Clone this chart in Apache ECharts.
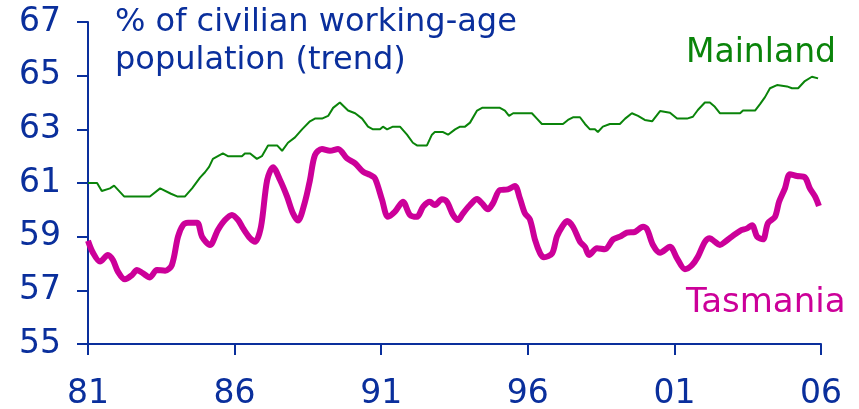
<!DOCTYPE html>
<html>
<head>
<meta charset="utf-8">
<script src="https://cdn.jsdelivr.net/npm/echarts@6/dist/echarts.min.js"></script>
<style>
  html, body { margin: 0; padding: 0; background: #fff; }
  #chart { width: 859px; height: 409px; }
</style>
</head>
<body>
<div id="chart"></div>
<script>
// participation rate, % of civilian working-age population (trend)
var yearTicks = [1981, 1986, 1991, 1996, 2001, 2006];

var mainlandYears = [1981.00, 1981.31, 1981.47, 1981.75, 1981.89, 1982.23, 1983.11, 1983.46, 1983.83, 1984.04,
  1984.31, 1984.55, 1984.82, 1984.99, 1985.13, 1985.26, 1985.43, 1985.60, 1985.77, 1986.25,
  1986.35, 1986.53, 1986.76, 1986.93, 1987.14, 1987.45, 1987.62, 1987.82, 1988.06, 1988.30,
  1988.57, 1988.74, 1988.98, 1989.19, 1989.36, 1989.59, 1989.87, 1990.11, 1990.35, 1990.55,
  1990.72, 1990.96, 1991.06, 1991.20, 1991.40, 1991.64, 1991.88, 1992.08, 1992.22, 1992.56,
  1992.73, 1992.83, 1993.11, 1993.28, 1993.52, 1993.69, 1993.86, 1994.03, 1994.27, 1994.44,
  1995.05, 1995.22, 1995.36, 1995.50, 1996.14, 1996.31, 1996.48, 1996.69, 1997.20, 1997.37,
  1997.54, 1997.78, 1997.95, 1998.12, 1998.29, 1998.39, 1998.56, 1998.80, 1999.14, 1999.32,
  1999.55, 1999.76, 1999.99, 2000.24, 2000.51, 2000.85, 2001.09, 2001.43, 2001.63, 2001.80,
  2002.04, 2002.21, 2002.38, 2002.55, 2003.24, 2003.34, 2003.75, 2003.92, 2004.09, 2004.26,
  2004.50, 2004.84, 2005.01, 2005.22, 2005.45, 2005.69, 2005.90];
var mainlandValues = [61.0, 61.0, 60.7, 60.8, 60.9, 60.5, 60.5, 60.8, 60.6, 60.5,
  60.5, 60.8, 61.2, 61.4, 61.6, 61.9, 62.0, 62.1, 62.0, 62.0,
  62.1, 62.1, 61.9, 62.0, 62.4, 62.4, 62.2, 62.5, 62.7, 63.0,
  63.3, 63.4, 63.4, 63.5, 63.8, 64.0, 63.7, 63.6, 63.4, 63.1,
  63.0, 63.0, 63.1, 63.0, 63.1, 63.1, 62.8, 62.5, 62.4, 62.4,
  62.8, 62.9, 62.9, 62.8, 63.0, 63.1, 63.1, 63.25, 63.7, 63.8,
  63.8, 63.7, 63.5, 63.6, 63.6, 63.4, 63.2, 63.2, 63.2, 63.35,
  63.45, 63.45, 63.2, 63.0, 63.0, 62.9, 63.1, 63.2, 63.2, 63.4,
  63.6, 63.5, 63.35, 63.3, 63.68, 63.62, 63.4, 63.4, 63.47, 63.72,
  64.0, 64.0, 63.84, 63.6, 63.6, 63.7, 63.7, 63.94, 64.2, 64.53,
  64.65, 64.6, 64.53, 64.53, 64.8, 64.96, 64.9];

var tasmaniaYears = [1981.00, 1981.17, 1981.41, 1981.68, 1981.85, 1982.02, 1982.26, 1982.50, 1982.67, 1982.88,
  1983.11, 1983.35, 1983.63, 1983.86, 1984.07, 1984.24, 1984.41, 1984.72, 1984.89, 1985.16,
  1985.43, 1985.67, 1985.91, 1986.12, 1986.29, 1986.53, 1986.70, 1986.90, 1987.11, 1987.31,
  1987.55, 1987.79, 1987.99, 1988.16, 1988.40, 1988.57, 1988.74, 1988.98, 1989.25, 1989.53,
  1989.83, 1990.11, 1990.38, 1990.62, 1990.79, 1991.03, 1991.23, 1991.47, 1991.74, 1991.98,
  1992.22, 1992.43, 1992.66, 1992.83, 1993.07, 1993.24, 1993.45, 1993.62, 1993.79, 1994.03,
  1994.27, 1994.44, 1994.64, 1994.81, 1995.05, 1995.32, 1995.56, 1995.73, 1995.90, 1996.07,
  1996.25, 1996.42, 1996.55, 1996.83, 1996.99, 1997.17, 1997.34, 1997.54, 1997.78, 1997.95,
  1998.09, 1998.36, 1998.63, 1998.91, 1999.14, 1999.38, 1999.66, 1999.93, 2000.07, 2000.27,
  2000.51, 2000.85, 2001.09, 2001.36, 2001.60, 2001.80, 2002.04, 2002.21, 2002.38, 2002.55,
  2002.73, 2002.96, 2003.24, 2003.48, 2003.65, 2003.82, 2004.02, 2004.19, 2004.43, 2004.57,
  2004.77, 2004.94, 2005.18, 2005.45, 2005.62, 2005.80, 2005.93];
var tasmaniaValues = [58.85, 58.4, 58.07, 58.32, 58.13, 57.7, 57.41, 57.57, 57.76, 57.63,
  57.48, 57.76, 57.73, 57.94, 59.0, 59.43, 59.52, 59.52, 59.0, 58.69,
  59.25, 59.62, 59.81, 59.62, 59.31, 58.94, 58.81, 59.37, 61.11, 61.59,
  61.11, 60.49, 59.87, 59.6, 60.3, 61.11, 62.04, 62.27, 62.2, 62.27,
  61.92, 61.73, 61.42, 61.3, 61.17, 60.37, 59.74, 59.93, 60.3, 59.81,
  59.74, 60.12, 60.3, 60.18, 60.39, 60.3, 59.81, 59.62, 59.87, 60.18,
  60.4, 60.24, 60.02, 60.24, 60.74, 60.76, 60.89, 60.43, 59.87, 59.65,
  58.87, 58.38, 58.23, 58.38, 59.0, 59.37, 59.58, 59.37, 58.81, 58.62,
  58.32, 58.57, 58.53, 58.9, 59.0, 59.15, 59.18, 59.37, 59.27, 58.69,
  58.4, 58.62, 58.19, 57.79, 57.94, 58.25, 58.81, 58.94, 58.81, 58.69,
  58.81, 59.0, 59.22, 59.31, 59.43, 59.0, 58.9, 59.5, 59.74, 60.3,
  60.8, 61.33, 61.26, 61.21, 60.8, 60.49, 60.14];

function pairs(xs, ys) {
  return xs.map(function (x, i) { return [x, ys[i]]; });
}

var blue = '#0a2f9c';
var green = '#0a840a';
var magenta = '#cc0099';
var font = 'DejaVu Sans';

var chart = echarts.init(document.getElementById('chart'));

var option = {
  animation: false,
  grid: { left: 88, right: 38, top: 22, bottom: 65, outerBoundsMode: 'none', containLabel: false },
  xAxis: {
    type: 'value',
    min: yearTicks[0],
    max: yearTicks[yearTicks.length - 1],
    interval: 5,
    axisLine: { lineStyle: { color: blue, width: 2 } },
    axisTick: { length: 11, lineStyle: { color: blue, width: 2 } },
    splitLine: { show: false },
    axisLabel: {
      color: blue, fontFamily: font, fontSize: 33, margin: 34,
      formatter: function (v) { return String(v).slice(2); }
    }
  },
  yAxis: {
    type: 'value',
    min: 55,
    max: 67,
    interval: 2,
    axisLine: { show: true, lineStyle: { color: blue, width: 2 } },
    axisTick: { show: true, length: 11, lineStyle: { color: blue, width: 2 } },
    splitLine: { show: false },
    axisLabel: { color: blue, fontFamily: font, fontSize: 33, margin: 27 }
  },
  graphic: [
    {
      type: 'text', left: 115, top: 4,
      style: {
        text: '% of civilian working-age\npopulation (trend)',
        fill: blue, font: '32px "DejaVu Sans"', lineHeight: 38
      }
    },
    {
      type: 'text', left: 686, top: 37,
      style: { text: 'Mainland', fill: green, font: '33px "DejaVu Sans"' }
    },
    {
      type: 'text', left: 686, top: 286,
      style: { text: 'Tasmania', fill: magenta, font: '34px "DejaVu Sans"' }
    }
  ],
  series: [
    {
      name: 'Mainland',
      type: 'line',
      data: pairs(mainlandYears, mainlandValues),
      showSymbol: false,
      lineStyle: { color: green, width: 2 }
    },
    {
      name: 'Tasmania',
      type: 'line',
      data: pairs(tasmaniaYears, tasmaniaValues),
      showSymbol: false,
      smooth: 0.3,
      lineStyle: { color: magenta, width: 6 }
    }
  ]
};

chart.setOption(option);
</script>
</body>
</html>
